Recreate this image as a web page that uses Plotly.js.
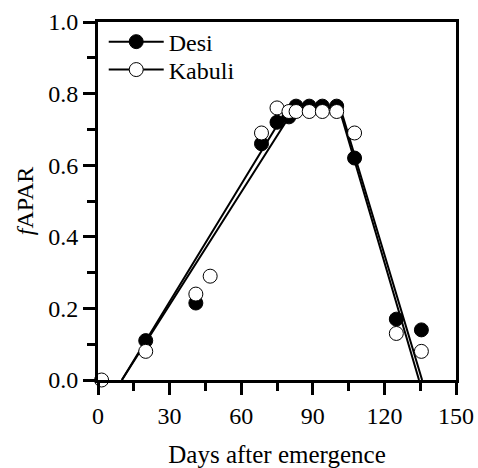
<!DOCTYPE html>
<html>
<head>
<meta charset="utf-8">
<script src="https://cdn.plot.ly/plotly-3.0.1.min.js"></script>
<style>body{margin:0;padding:0;background:#fff}#chart{width:478px;height:468px}</style>
</head>
<body>
<div id="chart"></div>
<script>
// Observed data
var desiX = [20, 41, 68.5, 75, 80, 83, 88.5, 94, 100, 107.5, 125, 135.5];
var desiY = [0.11, 0.215, 0.66, 0.72, 0.735, 0.765, 0.765, 0.765, 0.765, 0.62, 0.17, 0.14];
var kabuliX = [1.5, 20, 41, 47, 68.5, 75, 80, 83, 88.5, 94, 100, 107.5, 125, 135.5];
var kabuliY = [0.0, 0.08, 0.24, 0.29, 0.69, 0.76, 0.75, 0.75, 0.75, 0.75, 0.75, 0.69, 0.13, 0.08];
// Fitted piecewise-linear lines (breakpoints)
var desiFitX = [10, 79.5, 101, 134.5];
var desiFitY = [0, 0.76, 0.76, 0];
var kabuliFitX = [10, 81.5, 102, 135.8];
var kabuliFitY = [0, 0.75, 0.75, 0];
var seriesNames = ['Desi', 'Kabuli'];
var xTicks = [0, 30, 60, 90, 120, 150];
var yTicks = [0.0, 0.2, 0.4, 0.6, 0.8, 1.0];
var yTickText = ['0.0', '0.2', '0.4', '0.6', '0.8', '1.0'];

var FONT = 'Liberation Serif';
var traces = [
  {x: desiFitX, y: desiFitY, mode: 'lines', line: {color: '#000', width: 2}, showlegend: false, hoverinfo: 'skip', cliponaxis: false},
  {x: kabuliFitX, y: kabuliFitY, mode: 'lines', line: {color: '#000', width: 2}, showlegend: false, hoverinfo: 'skip', cliponaxis: false},
  {x: desiX, y: desiY, mode: 'markers', marker: {symbol: 'circle', size: 14, color: '#000', line: {color: '#000', width: 1}}, showlegend: false, cliponaxis: false},
  {x: kabuliX, y: kabuliY, mode: 'markers', marker: {symbol: 'circle', size: 14, color: '#fff', line: {color: '#000', width: 1}}, showlegend: false, cliponaxis: false},
  {x: [null], y: [null], name: seriesNames[0], legend: 'legend', mode: 'lines+markers', line: {color: '#000', width: 2}, marker: {symbol: 'circle', size: 14, color: '#000', line: {color: '#000', width: 1}}},
  {x: [null], y: [null], name: seriesNames[1], legend: 'legend2', mode: 'lines+markers', line: {color: '#000', width: 2}, marker: {symbol: 'circle', size: 14, color: '#fff', line: {color: '#000', width: 1}}}
];

var legendBase = {xanchor: 'left', yanchor: 'middle', bgcolor: 'rgba(0,0,0,0)', font: {family: FONT, size: 24}, itemwidth: 55};
var layout = {
  width: 478, height: 468,
  margin: {l: 98, r: 22, t: 22, b: 88},
  paper_bgcolor: '#fff', plot_bgcolor: '#fff',
  font: {family: FONT, size: 24, color: '#000'},
  showlegend: true,
  legend: Object.assign({x: 0.016, y: 0.944}, legendBase),
  legend2: Object.assign({x: 0.016, y: 0.866}, legendBase),
  xaxis: {
    range: [0, 150], tickmode: 'array', tickvals: xTicks,
    ticks: 'outside', ticklen: 12, tickwidth: 3, tickcolor: '#000',
    showline: true, linewidth: 3, linecolor: '#000', mirror: true,
    showgrid: false, zeroline: false,
    minor: {dtick: 15, ticks: 'outside', ticklen: 8, tickwidth: 3, tickcolor: '#000', showgrid: false},
    title: {text: 'Days after emergence', font: {family: FONT, size: 25}, standoff: 22},
    tickfont: {family: FONT, size: 24}
  },
  yaxis: {
    range: [0, 1], tickmode: 'array', tickvals: yTicks, ticktext: yTickText,
    ticks: 'outside', ticklen: 12, tickwidth: 3, tickcolor: '#000',
    showline: true, linewidth: 3, linecolor: '#000', mirror: true,
    showgrid: false, zeroline: false,
    minor: {dtick: 0.1, ticks: 'outside', ticklen: 8, tickwidth: 3, tickcolor: '#000', showgrid: false},
    title: {text: '<i>f</i>APAR', font: {family: FONT, size: 24}, standoff: 8},
    tickfont: {family: FONT, size: 24}
  }
};

Plotly.newPlot('chart', traces, layout, {displayModeBar: false, staticPlot: true});
</script>
</body>
</html>
